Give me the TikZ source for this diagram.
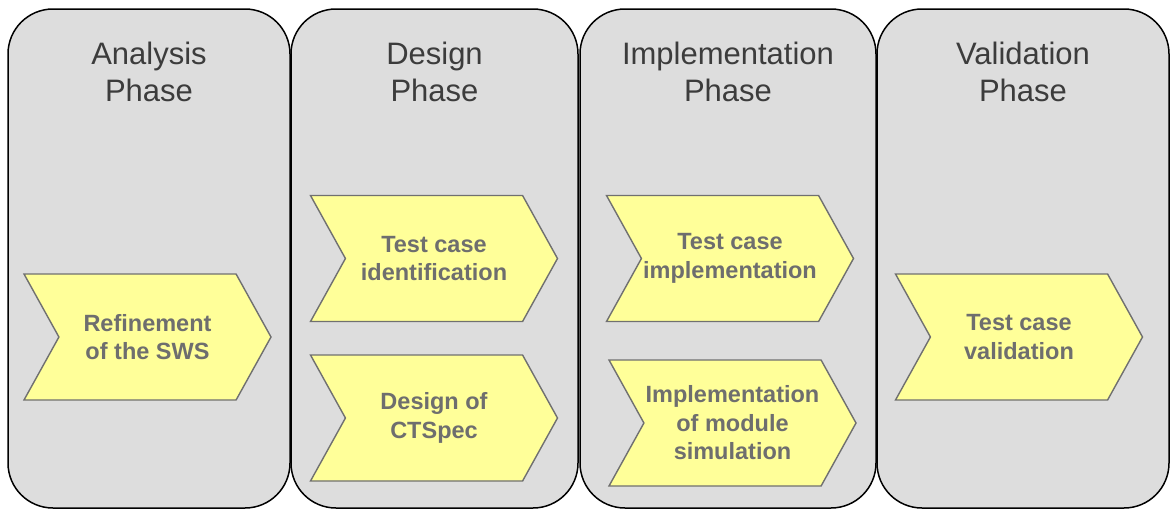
\documentclass[tikz,border=0pt]{standalone}
\usepackage{fontspec}
\setmainfont{Liberation Sans}
\usetikzlibrary{shapes.symbols, positioning}
\definecolor{PanelGray}{RGB}{221, 221, 221}
\definecolor{StepYellow}{RGB}{255, 255, 153}
\definecolor{StepBorder}{RGB}{112, 112, 112}
\definecolor{TitleGray}{RGB}{60, 60, 60}
\definecolor{StepText}{RGB}{110, 110, 110}

\begin{document}
\begin{tikzpicture}[x=1pt, y=-1pt,
        panel/.style={draw=black, line width=1.5pt, fill=PanelGray, rounded corners=45pt,
            minimum width=282pt, minimum height=499pt, inner sep=0pt},
        phase/.style={anchor=north, inner sep=0pt, align=center, text=TitleGray,
            font=\fontsize{31}{37}\selectfont},
        chevron/.style={shape=signal, signal from=west, signal to=east, signal pointer angle=122,
            draw=StepBorder, line width=1.4pt, fill=StepYellow,
            minimum width=247pt, minimum height=126pt, inner sep=0pt, align=center,
            text=StepText, font=\fontsize{23.5}{28.5}\selectfont\bfseries}]
        \useasboundingbox (0,0) rectangle (1170,509);

        % Phase panels
        \node[panel] (analysis) at (149,258.5) {};
        \node[panel, minimum width=287pt] (design) at (434.5,258.5) {};
        \node[panel, minimum width=296pt] (implementation) at (728,258.5) {};
        \node[panel, minimum width=292pt] (validation) at (1023,258.5) {};

        % Phase titles
        \node[phase] (analysisTitle) at (149,42) {Analysis\\Phase};
        \node[phase] (designTitle) at (434.5,42) {Design\\Phase};
        \node[phase] (implementationTitle) at (728,42) {Implementation\\Phase};
        \node[phase] (validationTitle) at (1023,42) {Validation\\Phase};

        % Analysis step
        \node[chevron] (refinement) at (147.5,337) {Refinement\\of the SWS};

        % Design steps
        \node[chevron] (identification) at (434,258.5) {Test case\\identification};
        \node[chevron] (ctspec) at (434,418) {Design of\\CTSpec};

        % Implementation steps
        \node[chevron] (tcImplementation) at (730,258.5) {Test case\\implementation};
        \node[chevron] (simulation) at (732.5,423) {Implementation\\of module\\simulation};

        % Validation step
        \node[chevron] (tcValidation) at (1019,337) {Test case\\validation};
    \end{tikzpicture}
\end{document}
